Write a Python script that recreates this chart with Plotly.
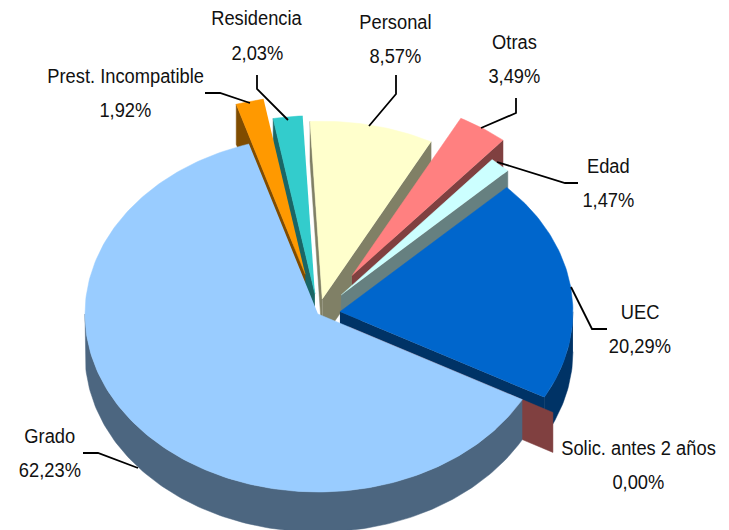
import math
import plotly.graph_objects as go

# ---- data ----
categories = ["UEC", "Solic. antes 2 años", "Grado", "Prest. Incompatible",
              "Residencia", "Personal", "Otras", "Edad"]
values = [20.29, 0.00, 62.23, 1.92, 2.03, 8.57, 3.49, 1.47]

# ---- styles / view of the 3D pie ----
top_colors = ["#0066CC", "#FF8080", "#99CCFF", "#FF9900", "#33CCCC", "#FFFFCC", "#FF8080", "#CCFFFF"]
side_colors = ["#003366", "#804040", "#4C6680", "#804C00", "#1A6666", "#808066", "#804040", "#668080"]
explosion = [0.095, 0.15, 0.0, 0.23, 0.115, 0.085, 0.26, 0.145]
draw_order = [5, 4, 3, 6, 7, 0, 1, 2]
first_angle = 45.7
CX, CY, RX, RY, DEPTH = 318, 314, 233, 178, 40

label_pos = {
    "UEC": (640, 312, 346), "Solic. antes 2 años": (638, 448, 482), "Grado": (50, 436, 470),
    "Prest. Incompatible": (125, 76, 110), "Residencia": (257, 18, 53), "Personal": (395, 22, 56),
    "Otras": (514, 42, 76), "Edad": (608, 166, 200),
}
leader_x = {
    "UEC": [571, 592, 607], "Grado": [83, 98, 138], "Prest. Incompatible": [205, 220, 250],
    "Residencia": [257, 257, 288], "Personal": [396, 396, 369], "Otras": [516, 516, 481],
    "Edad": [578, 565, 497],
}
leader_y = {
    "UEC": [287, 329, 329], "Grado": [453, 453, 468], "Prest. Incompatible": [93, 93, 103],
    "Residencia": [75, 89, 120], "Personal": [75, 94, 126], "Otras": [98, 113, 128],
    "Edad": [183, 183, 162],
}
FONT = dict(family="Liberation Sans, Arial, sans-serif", size=20, color="#111111")

POST = """
document.documentElement.style.margin='0';
document.body.style.margin='0';
document.querySelectorAll('.annotation-text').forEach(function(t){
  var w=t.getComputedTextLength();
  t.setAttribute('lengthAdjust','spacingAndGlyphs');
  t.setAttribute('textLength',(w*0.915).toFixed(1));
});
"""


def pt(ax, ay, deg, dz=0):
    r = math.radians(deg)
    return ax + RX * math.sin(r), ay - RY * math.cos(r) + dz


def poly(fig, pts, color):
    fig.add_trace(go.Scatter(x=[p[0] for p in pts], y=[p[1] for p in pts], mode="lines",
                             fill="toself", fillcolor=color, line=dict(color=color, width=0.5),
                             hoverinfo="skip", showlegend=False))


total = sum(values)
spans = []
a = first_angle
for v in values:
    spans.append((a, a + v / total * 360))
    a += v / total * 360

fig = go.Figure()
for i in draw_order:
    s, e = spans[i]
    mid = math.radians((s + e) / 2)
    off = explosion[i] * RX
    ax = CX + off * math.sin(mid)
    ay = CY - off * (RY / RX) * math.cos(mid)
    # radial walls that face the viewer
    for ang, normal in ((s, s - 90), (e, e + 90)):
        if math.cos(math.radians(normal)) < 0:
            p = pt(ax, ay, ang)
            q = pt(ax, ay, ang, DEPTH)
            poly(fig, [(ax, ay), p, q, (ax, ay + DEPTH)], side_colors[i])
    # outer rim (front half only)
    lo, hi = max(s, 90), min(e, 270)
    if hi > lo:
        n = max(2, int(hi - lo))
        angs = [lo + (hi - lo) * k / n for k in range(n + 1)]
        poly(fig, [pt(ax, ay, t) for t in angs] + [pt(ax, ay, t, DEPTH) for t in reversed(angs)], side_colors[i])
    # top face
    if e > s:
        n = max(2, int(e - s))
        angs = [s + (e - s) * k / n for k in range(n + 1)]
        poly(fig, [(ax, ay)] + [pt(ax, ay, t) for t in angs], top_colors[i])

# leader lines
for name in leader_x:
    fig.add_trace(go.Scatter(x=leader_x[name], y=leader_y[name], mode="lines",
                             line=dict(color="black", width=1.8), hoverinfo="skip", showlegend=False))

# labels
for name, v in zip(categories, values):
    x, y1, y2 = label_pos[name]
    fig.add_annotation(x=x, y=y1, text=name, showarrow=False, font=FONT, xanchor="center", yanchor="middle")
    fig.add_annotation(x=x, y=y2, text=f"{v:.2f}%".replace(".", ","), showarrow=False, font=FONT,
                       xanchor="center", yanchor="middle")

fig.update_layout(width=729, height=530, margin=dict(l=0, r=0, t=0, b=0),
                  paper_bgcolor="white", plot_bgcolor="white", showlegend=False,
                  xaxis=dict(range=[0, 729], visible=False, fixedrange=True),
                  yaxis=dict(range=[530, 0], visible=False, fixedrange=True))
fig.write_html("out.html", config={"displayModeBar": False}, post_script=POST)
